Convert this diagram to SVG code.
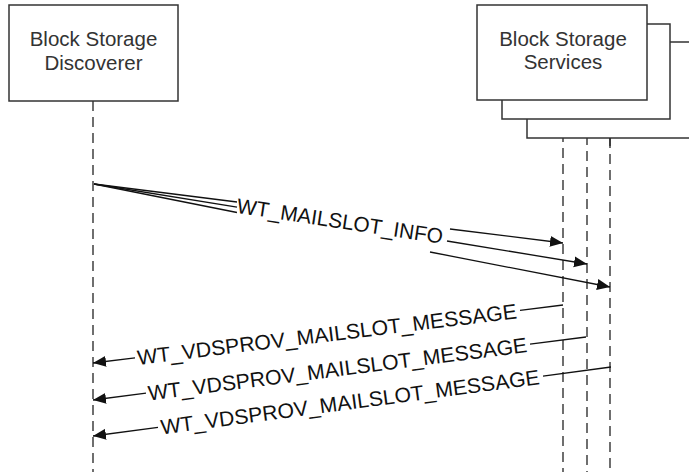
<svg xmlns="http://www.w3.org/2000/svg" width="689" height="472" viewBox="0 0 689 472">
  <defs>
    <marker id="arrow" markerUnits="userSpaceOnUse" markerWidth="14" markerHeight="12" refX="13" refY="6" orient="auto">
      <path d="M0,0.5 L13,6 L0,11.5 Z" fill="#111"/>
    </marker>
    <style>
      .box { fill: #fff; stroke: #333; stroke-width: 1.5; }
      .life { fill: none; stroke: #222; stroke-width: 1.3; stroke-dasharray: 10 6; }
      .msg { fill: none; stroke: #111; stroke-width: 1.3; }
      .head { marker-end: url(#arrow); }
      .name { font-family: "Liberation Sans", Arial, sans-serif; font-size: 20.5px; fill: #333; text-anchor: middle; }
      .lbl { font-family: "Liberation Sans", Arial, sans-serif; font-size: 21px; fill: #111; text-anchor: middle; }
    </style>
  </defs>
  <rect width="689" height="472" fill="#fff"/>

  <!-- participant: discoverer -->
  <g id="discoverer">
    <line class="life" x1="93" y1="101" x2="93" y2="472"/>
    <rect class="box" x="9" y="5" width="169" height="96"/>
    <text class="name" x="93.5" y="46">Block Storage</text>
    <text class="name" x="93.5" y="70">Discoverer</text>
  </g>

  <!-- participant: stacked service instances -->
  <g id="services">
    <line class="life" x1="610" y1="138" x2="610" y2="472"/>
    <line class="life" x1="587" y1="119" x2="587" y2="472"/>
    <line class="life" x1="563" y1="100" x2="563" y2="472"/>
    <rect class="box" x="527" y="42" width="180" height="96"/>
    <line class="life" x1="610" y1="138" x2="610" y2="146"/>
    <rect class="box" x="502" y="24" width="168" height="95"/>
    <rect class="box" x="477" y="5" width="170" height="95"/>
    <text class="name" x="563" y="46">Block Storage</text>
    <text class="name" x="563" y="69">Services</text>
  </g>

  <!-- messages -->
  <g id="connectors">
    <!-- requests to each service -->
    <line class="msg" x1="94" y1="184" x2="237" y2="202"/>
    <line class="msg head" x1="450" y1="229" x2="563" y2="243"/>
    <line class="msg" x1="94" y1="184" x2="237" y2="207.2"/>
    <line class="msg head" x1="447" y1="241" x2="587" y2="264"/>
    <line class="msg" x1="94" y1="184" x2="237" y2="212.5"/>
    <line class="msg head" x1="430" y1="252" x2="610" y2="287"/>
    <g transform="translate(340,220.8) rotate(8.6)">
      <text class="lbl" x="0" y="7.5" textLength="208" lengthAdjust="spacingAndGlyphs">WT_MAILSLOT_INFO</text>
    </g>

    <!-- replies from each service -->
    <line class="msg" x1="563" y1="305" x2="520" y2="310.3"/>
    <line class="msg head" x1="135" y1="357.8" x2="93" y2="363"/>
    <g transform="translate(327,334.1) rotate(-7.03)">
      <text class="lbl" x="0" y="7.5" textLength="382" lengthAdjust="spacingAndGlyphs">WT_VDSPROV_MAILSLOT_MESSAGE</text>
    </g>

    <line class="msg" x1="586" y1="337" x2="530" y2="344.2"/>
    <line class="msg head" x1="146" y1="393.2" x2="93" y2="400"/>
    <g transform="translate(337.5,368.8) rotate(-7.28)">
      <text class="lbl" x="0" y="7.5" textLength="382" lengthAdjust="spacingAndGlyphs">WT_VDSPROV_MAILSLOT_MESSAGE</text>
    </g>

    <line class="msg" x1="611" y1="367" x2="543" y2="376.1"/>
    <line class="msg head" x1="158" y1="427.3" x2="93" y2="436"/>
    <g transform="translate(350,401.8) rotate(-7.59)">
      <text class="lbl" x="0" y="7.5" textLength="382" lengthAdjust="spacingAndGlyphs">WT_VDSPROV_MAILSLOT_MESSAGE</text>
    </g>
  </g>
</svg>
